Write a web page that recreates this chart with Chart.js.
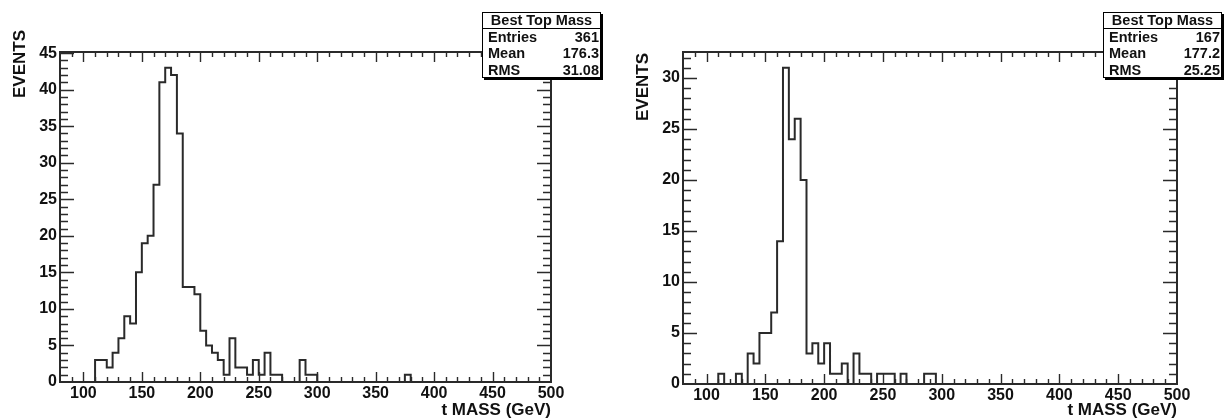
<!DOCTYPE html>
<html>
<head>
<meta charset="utf-8">
<title>Best Top Mass</title>
<script src="https://cdn.jsdelivr.net/npm/chart.js@4.4.1/dist/chart.umd.min.js"></script>
<style>
  html, body { margin: 0; padding: 0; background: #fff; }
  .panel { position: absolute; top: 0; width: 612px; height: 418px; }
  #left { left: 0; }
  #right { left: 612px; }
</style>
</head>
<body>
<div class="panel" id="left"><canvas id="massAll" width="612" height="418"></canvas></div>
<div class="panel" id="right"><canvas id="massBest" width="612" height="418"></canvas></div>
<script>
// bin edges in GeV (5 GeV bins, 80 -> 500)
const massBinEdges = [
  80, 85, 90, 95, 100, 105, 110, 115, 120, 125, 130, 135, 140, 145, 150, 155,
  160, 165, 170, 175, 180, 185, 190, 195, 200, 205, 210, 215, 220, 225, 230, 235,
  240, 245, 250, 255, 260, 265, 270, 275, 280, 285, 290, 295, 300, 305, 310, 315,
  320, 325, 330, 335, 340, 345, 350, 355, 360, 365, 370, 375, 380, 385, 390, 395,
  400, 405, 410, 415, 420, 425, 430, 435, 440, 445, 450, 455, 460, 465, 470, 475,
  480, 485, 490, 495, 500
];

// events per bin, left plot (361 entries)
const eventsLeft = [
  0, 0, 0, 0, 0, 0, 3, 3, 2, 4, 6, 9, 8, 15, 19, 20,
  27, 41, 43, 42, 34, 13, 13, 12, 7, 5, 4, 3, 1, 6, 2, 2,
  1, 3, 1, 4, 1, 1, 0, 0, 0, 3, 1, 1, 0, 0, 0, 0,
  0, 0, 0, 0, 0, 0, 0, 0, 0, 0, 0, 1, 0, 0, 0, 0,
  0, 0, 0, 0, 0, 0, 0, 0, 0, 0, 0, 0, 0, 0, 0, 0,
  0, 0, 0, 0
];

// events per bin, right plot (167 entries)
const eventsRight = [
  0, 0, 0, 0, 0, 0, 1, 0, 0, 1, 0, 3, 2, 5, 5, 7,
  14, 31, 24, 26, 20, 3, 4, 2, 4, 1, 1, 2, 0, 3, 1, 1,
  0, 1, 1, 1, 0, 1, 0, 0, 0, 1, 1, 0, 0, 0, 0, 0,
  0, 0, 0, 0, 0, 0, 0, 0, 0, 0, 0, 0, 0, 0, 0, 0,
  0, 0, 0, 0, 0, 0, 0, 0, 0, 0, 0, 0, 0, 0, 0, 0,
  0, 0, 0, 0
];

const histTitle = "Best Top Mass";
const statsNames = ["Entries", "Mean", "RMS"];
const statsLeft = ["361", "176.3", "31.08"];
const statsRight = ["167", "177.2", "25.25"];

const FONT = "'Liberation Sans', Arial, Helvetica, sans-serif";
Chart.defaults.font.family = FONT;
Chart.defaults.font.weight = "bold";
Chart.defaults.font.size = 16;
Chart.defaults.color = "#111";

// two points per bin so the outline looks like a ROOT histogram
function histPoints(counts) {
  const pts = [];
  counts.forEach((n, i) => {
    pts.push({ x: massBinEdges[i], y: n });
    pts.push({ x: massBinEdges[i + 1], y: n });
  });
  return pts;
}

// frame, inward ticks, y title and stats box
function rootStyle(cfg) {
  return {
    id: "rootStyle",
    afterDraw(chart) {
      const { ctx, chartArea: a } = chart;
      const xs = chart.scales.x;
      const ys = chart.scales.y;
      ctx.save();
      ctx.strokeStyle = "#2a2a2a";
      ctx.lineWidth = 2;
      ctx.strokeRect(a.left, a.top, a.right - a.left, a.bottom - a.top);

      ctx.lineWidth = 1.4;
      ctx.beginPath();
      for (let v = xs.min + 10; v < xs.max; v += 10) {
        const px = Math.round(xs.getPixelForValue(v)) + 0.5;
        const len = v % 50 === 0 ? 10 : 5;
        ctx.moveTo(px, a.bottom);
        ctx.lineTo(px, a.bottom - len);
        ctx.moveTo(px, a.top);
        ctx.lineTo(px, a.top + len);
      }
      for (let v = 1; v <= ys.max; v += 1) {
        const py = Math.round(ys.getPixelForValue(v)) + 0.5;
        const len = v % 5 === 0 ? 14 : 8;
        ctx.moveTo(a.left, py);
        ctx.lineTo(a.left + len, py);
        ctx.moveTo(a.right, py);
        ctx.lineTo(a.right - len, py);
      }
      ctx.stroke();

      // y axis title, ROOT puts it at the top end
      ctx.save();
      ctx.translate(cfg.yTitle.x, cfg.yTitle.top);
      ctx.rotate(-Math.PI / 2);
      ctx.font = "bold 17px " + FONT;
      ctx.fillStyle = "#111";
      ctx.textAlign = "right";
      ctx.textBaseline = "middle";
      ctx.fillText("EVENTS", 0, 0);
      ctx.restore();

      // stats box with shadow
      const b = cfg.box;
      ctx.fillStyle = "#000";
      ctx.fillRect(b.x + 2, b.y + 2, b.w, b.h);
      ctx.fillStyle = "#fff";
      ctx.fillRect(b.x, b.y, b.w, b.h);
      ctx.strokeStyle = "#000";
      ctx.lineWidth = 1;
      ctx.strokeRect(b.x + 0.5, b.y + 0.5, b.w - 1, b.h - 1);
      ctx.beginPath();
      ctx.moveTo(b.x, b.y + 16.5);
      ctx.lineTo(b.x + b.w, b.y + 16.5);
      ctx.stroke();

      ctx.font = "bold 14.5px " + FONT;
      ctx.fillStyle = "#111";
      ctx.textBaseline = "middle";
      ctx.textAlign = "center";
      ctx.fillText(histTitle, b.x + b.w / 2, b.y + 9);
      statsNames.forEach((name, i) => {
        const ty = b.y + 25.5 + i * 16.8;
        ctx.textAlign = "left";
        ctx.fillText(name, b.x + 6, ty);
        ctx.textAlign = "right";
        ctx.fillText(cfg.values[i], b.x + b.w - 2, ty);
      });
      ctx.restore();
    }
  };
}

function makeHist(canvasId, counts, cfg) {
  const yMax = Math.max(...counts) * 1.05;
  return new Chart(document.getElementById(canvasId).getContext("2d"), {
    type: "line",
    data: {
      datasets: [
        {
          label: histTitle,
          data: histPoints(counts),
          borderColor: "#2a2a2a",
          borderWidth: 2,
          pointRadius: 0,
          fill: false,
          tension: 0,
        },
      ],
    },
    options: {
      responsive: false,
      animation: false,
      layout: {
        padding: { left: 0, top: cfg.area.top, right: 612 - cfg.area.right, bottom: 0 },
      },
      plugins: {
        legend: { display: false },
        tooltip: { enabled: false },
      },
      scales: {
        x: {
          type: "linear",
          min: 80,
          max: 500,
          grid: { display: false, drawTicks: false },
          border: { display: false },
          ticks: {
            stepSize: 50,
            includeBounds: false,
            autoSkip: false,
            maxRotation: 0,
            padding: 2,
            color: "#111",
          },
          title: {
            display: true,
            text: "t MASS (GeV)",
            align: "end",
            color: "#111",
            font: { size: 17, weight: "bold", lineHeight: 1 },
            padding: { top: 0, bottom: -1 },
          },
          afterFit: function (scale) {
            scale.height = 418 - cfg.area.bottom;
          },
        },
        y: {
          min: 0,
          max: yMax,
          grid: { display: false, drawTicks: false },
          border: { display: false },
          ticks: {
            stepSize: 5,
            includeBounds: false,
            padding: 3,
            color: "#111",
          },
          afterFit: function (scale) {
            scale.width = cfg.area.left;
          },
        },
      },
    },
    plugins: [rootStyle(cfg)],
  });
}

makeHist("massAll", eventsLeft, {
  area: { left: 60, right: 551, top: 52, bottom: 382 },
  yTitle: { x: 20, top: 30 },
  box: { x: 482, y: 12, w: 119, h: 66 },
  values: statsLeft,
});

makeHist("massBest", eventsRight, {
  area: { left: 71, right: 565, top: 52, bottom: 384 },
  yTitle: { x: 31, top: 53 },
  box: { x: 491, y: 12, w: 119, h: 66 },
  values: statsRight,
});
</script>
</body>
</html>
